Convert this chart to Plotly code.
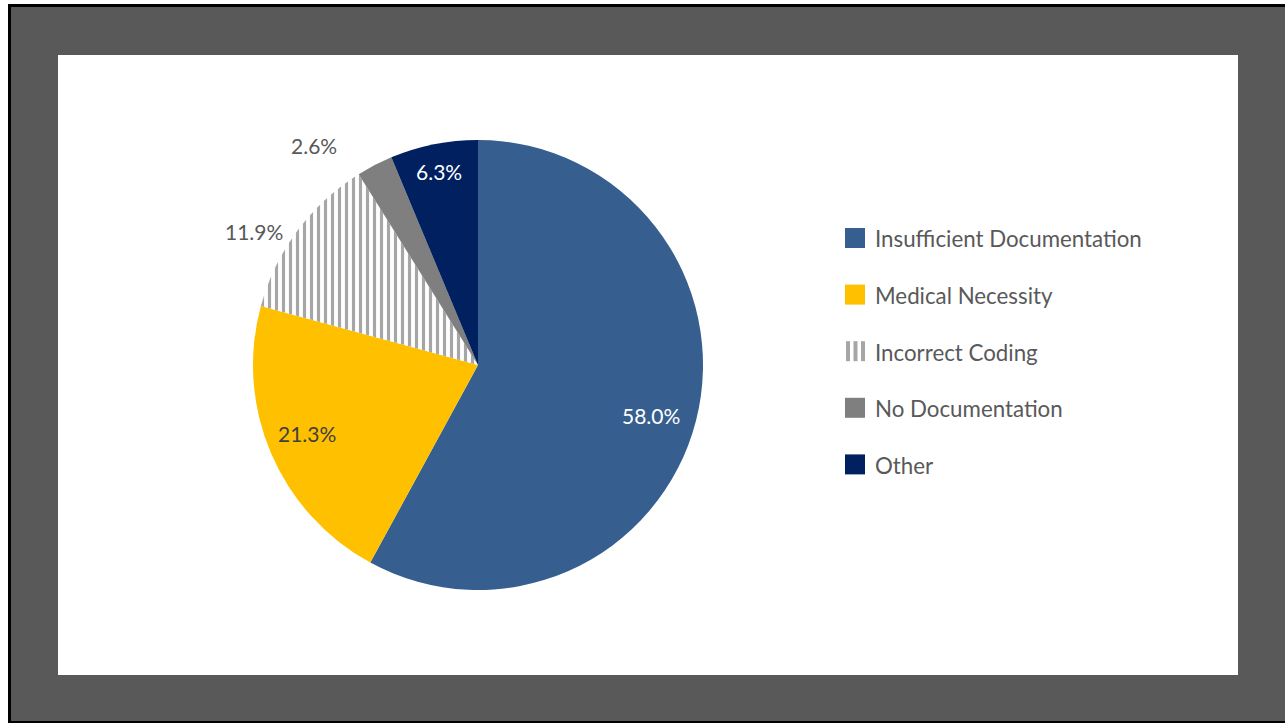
import math
import plotly.graph_objects as go

categories = ["Insufficient Documentation", "Medical Necessity", "Incorrect Coding", "No Documentation", "Other"]
values = [58.0, 21.3, 11.9, 2.6, 6.3]
colors = ["#365E8F", "#FFC000", "#FFFFFF", "#7F7F7F", "#002060"]
patterns = ["", "", "|", "", ""]
label_radius = [0.80, 0.82, 1.16, 1.215, 0.875]   # label distance as a fraction of radius
label_shift = [2.0, 1.3, -5.8, -9.4, 0.0]          # label angle offset from slice middle, degrees
label_colors = ["#FFFFFF", "#404040", "#595959", "#595959", "#FFFFFF"]

W, H = 1285, 723
FONT = "Lato"
CX, CY, R = 478, 365, 225
STRIPE = "#A6A6A6"

def px(x):
    return x / W

def py(y):
    return 1 - y / H

fig = go.Figure()

fig.add_trace(go.Pie(
    labels=categories,
    values=values,
    sort=False,
    direction="clockwise",
    rotation=0,
    showlegend=False,
    textinfo="none",
    marker=dict(
        colors=colors,
        line=dict(color="#FFFFFF", width=0),
        pattern=dict(shape=patterns, fgcolor=STRIPE, bgcolor="#FFFFFF", size=7, solidity=0.45),
    ),
    domain=dict(x=[px(CX - R), px(CX + R)], y=[py(CY + R), py(CY - R)]),
    hoverinfo="label+percent",
))

# data labels placed around the mid-angle of each slice
total = sum(values)
cum = 0.0
annotations = []
for v, rf, sh, tc in zip(values, label_radius, label_shift, label_colors):
    mid = (cum + v / 2) / total * 2 * math.pi + math.radians(sh)
    cum += v
    lx = CX + rf * R * math.sin(mid)
    ly = CY - rf * R * math.cos(mid)
    annotations.append(dict(
        x=px(lx), y=py(ly), xref="paper", yref="paper", showarrow=False,
        text=f"{v:.1f}%", font=dict(family=FONT, size=21, color=tc),
        xanchor="center", yanchor="middle",
    ))

shapes = [
    dict(type="rect", xref="paper", yref="paper", x0=px(8), x1=px(1285), y0=py(723), y1=py(4),
         fillcolor="#000000", line=dict(width=0), layer="below"),
    dict(type="rect", xref="paper", yref="paper", x0=px(11), x1=px(1285), y0=py(721), y1=py(7),
         fillcolor="#595959", line=dict(width=0), layer="below"),
    dict(type="rect", xref="paper", yref="paper", x0=px(58), x1=px(1238), y0=py(675), y1=py(55),
         fillcolor="#FFFFFF", line=dict(width=0), layer="below"),
]

# legend: swatch + label per category
LX, LY0, LSTEP, SW = 845, 238, 56.6, 20
for i, (c, col, pat) in enumerate(zip(categories, colors, patterns)):
    yc = LY0 + i * LSTEP
    if pat == "|":
        for k in range(3):
            x0 = LX + 1 + k * 7.5
            shapes.append(dict(type="rect", xref="paper", yref="paper",
                               x0=px(x0), x1=px(x0 + 4), y0=py(yc + SW / 2), y1=py(yc - SW / 2),
                               fillcolor=STRIPE, line=dict(width=0)))
    else:
        shapes.append(dict(type="rect", xref="paper", yref="paper",
                           x0=px(LX), x1=px(LX + SW), y0=py(yc + SW / 2), y1=py(yc - SW / 2),
                           fillcolor=col, line=dict(width=0)))
    annotations.append(dict(
        x=px(873), y=py(yc + 1), xref="paper", yref="paper", showarrow=False,
        text=c, font=dict(family=FONT, size=22.3, color="#595959"),
        xanchor="left", yanchor="middle",
    ))

fig.update_layout(
    width=W, height=H,
    margin=dict(l=0, r=0, t=0, b=0),
    paper_bgcolor="#FFFFFF",
    shapes=shapes,
    annotations=annotations,
    showlegend=False,
    font=dict(family=FONT),
)

fig.write_html("out.html", config={"displayModeBar": False},
               post_script="document.body.style.margin='0px';")
